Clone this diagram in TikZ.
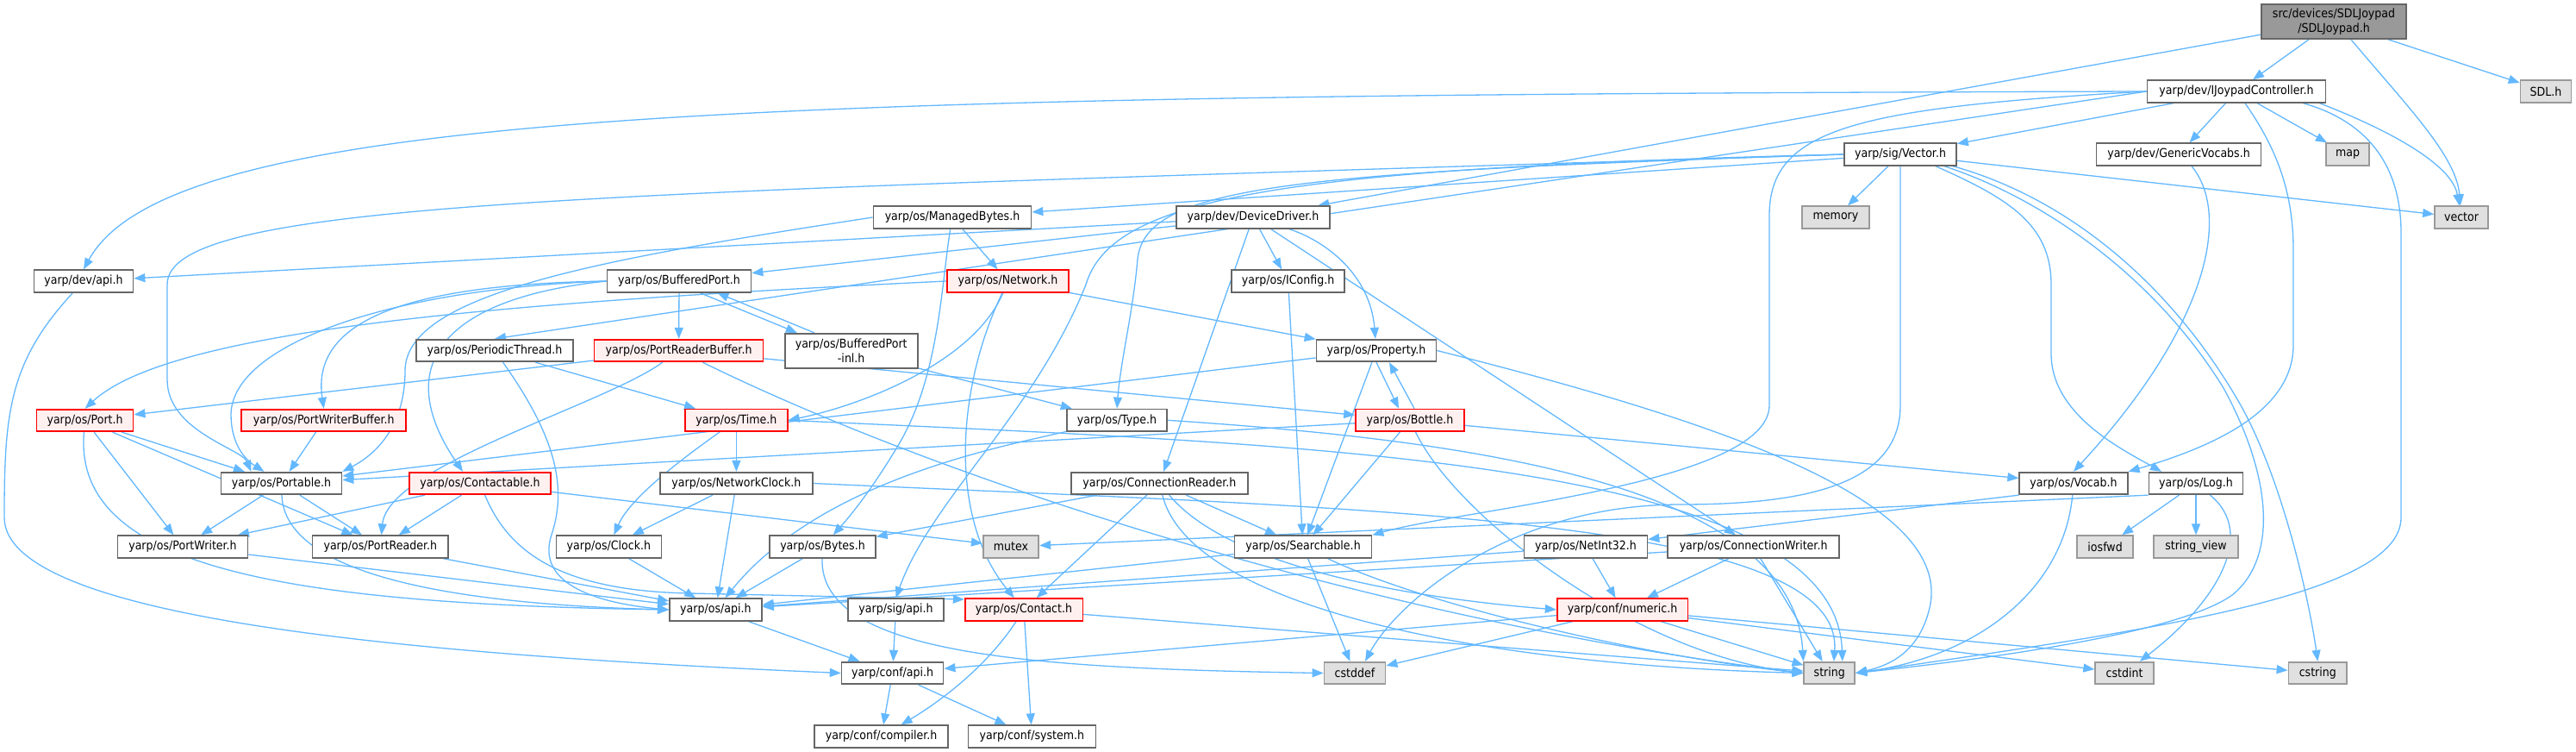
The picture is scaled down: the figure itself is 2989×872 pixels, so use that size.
\documentclass[tikz,border=0pt]{standalone}
\usepackage{fontspec}
\setmainfont{DejaVu Sans}[FakeStretch=0.9]
\usetikzlibrary{arrows.meta}
\definecolor{edgec}{HTML}{63B8FF}
\definecolor{bordc}{HTML}{666666}
\definecolor{sysf}{HTML}{E0E0E0}
\definecolor{sysb}{HTML}{999999}
\definecolor{redf}{HTML}{FFF0F0}
\definecolor{mainf}{HTML}{999999}
\pgfdeclarelayer{bg}
\pgfsetlayers{bg,main}
\begin{document}
\begin{tikzpicture}[x=1pt,y=-1pt,
 box/.style={draw=bordc, fill=white, line width=1.7pt, minimum height=25.6pt, inner sep=0pt, font=\fontsize{14}{16.5}\selectfont, text=black, align=center},
 sys/.style={box, fill=sysf, draw=sysb},
 redbox/.style={box, fill=redf, draw=red},
 mainbox/.style={box, fill=mainf, draw=bordc},
 dep/.style={draw=edgec, line width=1.3pt, -{Triangle[length=13pt,width=10pt]}},
]
\useasboundingbox (0,0) rectangle (2989,872);
% row 0
\node[mainbox, minimum width=168pt, minimum height=40pt] (main) at (2708,25) {src/devices/SDLJoypad\\/SDLJoypad.h};
% row 1
\node[box, minimum width=207pt] (ijoy) at (2595,106) {yarp/dev/IJoypadController.h};
\node[sys, minimum width=59pt] (sdl) at (2954,106) {SDL.h};
% row 2
\node[box, minimum width=191pt] (genv) at (2528,179) {yarp/dev/GenericVocabs.h};
\node[sys, minimum width=50pt] (map) at (2724,179) {map};
\node[box, minimum width=130pt] (vech) at (2205,179) {yarp/sig/Vector.h};
% row 3
\node[sys, minimum width=78pt] (memory) at (2130,252) {memory};
\node[sys, minimum width=62pt] (vector) at (2856,252) {vector};
\node[box, minimum width=183pt] (mbytes) at (1105,252) {yarp/os/ManagedBytes.h};
\node[box, minimum width=178pt] (ddrv) at (1454,252) {yarp/dev/DeviceDriver.h};
% row 4
\node[box, minimum width=115pt] (devapi) at (97,326) {yarp/dev/api.h};
\node[box, minimum width=167pt] (bport) at (788,326) {yarp/os/BufferedPort.h};
\node[redbox, minimum width=141.5pt] (network) at (1169.5,326) {yarp/os/Network.h};
\node[box, minimum width=131pt] (iconfig) at (1494.6,326) {yarp/os/IConfig.h};
% row 5
\node[box, minimum width=182pt] (pthread) at (574,406.5) {yarp/os/PeriodicThread.h};
\node[redbox, minimum width=196pt] (prbuf) at (787.6,406.5) {yarp/os/PortReaderBuffer.h};
\node[box, minimum width=154pt, minimum height=40pt] (bpinl) at (987.7,406.7) {yarp/os/BufferedPort\\-inl.h};
\node[box, minimum width=139pt] (property) at (1597,406.5) {yarp/os/Property.h};
% row 6
\node[redbox, minimum width=112pt] (port) at (98.6,487.5) {yarp/os/Port.h};
\node[redbox, minimum width=191pt] (pwbuf) at (375.7,487.5) {yarp/os/PortWriterBuffer.h};
\node[redbox, minimum width=119pt] (time) at (854.4,487.3) {yarp/os/Time.h};
\node[box, minimum width=116pt] (type) at (1296,487.3) {yarp/os/Type.h};
\node[redbox, minimum width=126pt] (bottle) at (1636,487.3) {yarp/os/Bottle.h};
% row 7
\node[box, minimum width=140pt] (portable) at (326.5,560.5) {yarp/os/Portable.h};
\node[redbox, minimum width=164pt] (contactable) at (557,560.5) {yarp/os/Contactable.h};
\node[box, minimum width=177pt] (netclock) at (854.4,560.5) {yarp/os/NetworkClock.h};
\node[box, minimum width=204.5pt] (connreader) at (1345.4,560.5) {yarp/os/ConnectionReader.h};
\node[box, minimum width=125.5pt] (vocab) at (2406,560.5) {yarp/os/Vocab.h};
\node[box, minimum width=109pt] (log) at (2548,560.5) {yarp/os/Log.h};
% row 8
\node[box, minimum width=151pt] (pwriter) at (212,634) {yarp/os/PortWriter.h};
\node[box, minimum width=157.5pt] (preader) at (441.3,634) {yarp/os/PortReader.h};
\node[box, minimum width=122pt] (clock) at (706.4,634) {yarp/os/Clock.h};
\node[box, minimum width=122.6pt] (bytes) at (954.5,634) {yarp/os/Bytes.h};
\node[sys, minimum width=64.5pt] (mutex) at (1173,634) {mutex};
\node[box, minimum width=159pt] (searchable) at (1512,634) {yarp/os/Searchable.h};
\node[box, minimum width=143pt] (netint) at (1840,634) {yarp/os/NetInt32.h};
\node[box, minimum width=198.7pt] (connwriter) at (2034.6,634) {yarp/os/ConnectionWriter.h};
\node[sys, minimum width=64.7pt] (iosfwd) at (2442.6,634) {iosfwd};
\node[sys, minimum width=98pt] (strview) at (2548,634) {string\_view};
% row 9
\node[box, minimum width=107pt] (osapi) at (830.4,707) {yarp/os/api.h};
\node[box, minimum width=110.5pt] (sigapi) at (1039.5,707) {yarp/sig/api.h};
\node[redbox, minimum width=136.7pt] (contact) at (1188,707) {yarp/os/Contact.h};
\node[redbox, minimum width=151.7pt] (numeric) at (1882.5,707) {yarp/conf/numeric.h};
% row 10
\node[box, minimum width=118pt] (confapi) at (1035.6,780.5) {yarp/conf/api.h};
\node[sys, minimum width=71pt] (cstddef) at (1572,780.5) {cstddef};
\node[sys, minimum width=59pt] (string) at (2122.8,780.5) {string};
\node[sys, minimum width=67.7pt] (cstdint) at (2465,780.5) {cstdint};
\node[sys, minimum width=67.7pt] (cstring) at (2689.3,780.5) {cstring};
% row 11
\node[box, minimum width=155pt] (compiler) at (1022.6,854) {yarp/conf/compiler.h};
\node[box, minimum width=148pt] (system) at (1197.4,854) {yarp/conf/system.h};

\begin{pgfonlayer}{bg}
\fill[white] (0,0) rectangle (2989,872);
% main
\draw[dep] (main) -- (ijoy);
\draw[dep] (main) -- (sdl);
\draw[dep] ([xshift=20pt]main.south) .. controls (2790,120) and (2850,180) .. (vector);
\draw[dep] (main) -- (ddrv);
% IJoypadController
\draw[dep] (ijoy.west) .. controls (900,110) and (200,125) .. (devapi.north);
\draw[dep] (ijoy.west) -- (pthread.north);
\draw[dep] (ijoy.west) .. controls (2150,125) and (2053,150) .. (2053,250) -- (2053,470) .. controls (2053,560) and (1700,590) .. (searchable.north east);
\draw[dep] (ijoy) -- (vech);
\draw[dep] (ijoy) -- (genv);
\draw[dep] (ijoy) -- (map);
\draw[dep] ([xshift=-8pt]ijoy.south east) .. controls (2770,150) and (2845,190) .. (vector);
\draw[dep] ([xshift=10pt]ijoy.south) .. controls (2640,170) and (2661,220) .. (2661,290) -- (2661,400) .. controls (2661,480) and (2560,520) .. (vocab.north east);
\draw[dep] ([xshift=-27pt]ijoy.south east) .. controls (2745,140) and (2786,190) .. (2786,270) -- (2786,600) .. controls (2786,690) and (2500,730) .. (string.east);
% GenericVocabs
\draw[dep] ([xshift=15pt]genv.south) .. controls (2590,250) and (2560,380) .. (vocab.north);
% Vector.h
\draw[dep] (vech) -- (memory);
\draw[dep] (vech) -- (vector);
\draw[dep] (vech) -- (mbytes);
\draw[dep] (vech.west) .. controls (700,225) and (194,230) .. (194,330) -- (194,440) .. controls (194,500) and (280,520) .. ([xshift=-35pt]portable.north);
\draw[dep] (vech.west) .. controls (1500,200) and (1330,215) .. (1320,300) .. controls (1315,360) and (1300,420) .. (type.north);
\draw[dep] (vech.west) .. controls (1480,195) and (1290,230) .. (1260,330) .. controls (1200,480) and (1080,580) .. (sigapi.north);
\draw[dep] ([xshift=-25pt]vech.south east) .. controls (2330,230) and (2380,260) .. (2380,330) -- (2380,410) .. controls (2380,480) and (2460,520) .. ([xshift=-40pt]log.north);
\draw[dep] ([xshift=-5pt]vech.south east) .. controls (2400,230) and (2520,330) .. (2600,470) .. controls (2650,560) and (2680,700) .. (cstring.north);
\draw[dep] ([xshift=-15pt]vech.south east) .. controls (2370,230) and (2500,320) .. (2580,450) .. controls (2640,560) and (2640,650) .. (2590,690) .. controls (2520,740) and (2250,770) .. (string.east);
\draw[dep] (vech.south) -- (2205,470) .. controls (2205,560) and (2100,585) .. (1950,585) .. controls (1750,585) and (1620,700) .. ([xshift=12pt]cstddef.north);
% DeviceDriver
\draw[dep] (ddrv) -- (devapi);
\draw[dep] (ddrv) -- (bport);
\draw[dep] (ddrv) -- (iconfig);
\draw[dep] (ddrv) .. controls (1540,280) and (1590,320) .. (property);
\draw[dep] (ddrv) -- (connreader);
\draw[dep] (ddrv) -- (connwriter);
% ManagedBytes
\draw[dep] (mbytes) .. controls (1092,330) and (1090,440) .. (1040,520) .. controls (1010,570) and (985,600) .. (bytes);
\draw[dep] (mbytes) -- (network);
\draw[dep] (mbytes.west) .. controls (700,300) and (470,340) .. (470,430) .. controls (470,500) and (430,530) .. (portable.north east);
% Network
\draw[dep] (network.west) .. controls (600,350) and (200,380) .. (port.north);
\draw[dep] (network) .. controls (1130,420) and (1000,470) .. (time.east);
\draw[dep] (network) .. controls (1110,450) and (1100,600) .. (contact);
\draw[dep] (network) -- (property);
% IConfig
\draw[dep] (iconfig) -- (searchable);
% BufferedPort
\draw[dep] (bport) -- (prbuf);
\draw[dep] ([xshift=-60pt]bport.south east) -- ([xshift=15pt]bpinl.north west);
\draw[dep] ([xshift=35pt]bpinl.north west) -- ([xshift=-40pt]bport.south east);
\draw[dep] (bport.west) .. controls (450,330) and (362,380) .. (pwbuf.north);
\draw[dep] (bport.west) .. controls (450,335) and (270,400) .. (268,480) .. controls (268,510) and (280,530) .. ([xshift=-20pt]portable.north);
\draw[dep] (bport.west) .. controls (520,345) and (450,420) .. ([xshift=-20pt]contactable.north);
\draw[dep] (bpinl) -- (type);
% PortReaderBuffer
\draw[dep] (prbuf) -- (port);
\draw[dep] (prbuf) .. controls (700,470) and (450,540) .. (preader);
\draw[dep] (prbuf) -- (bottle);
\draw[dep] (prbuf) .. controls (1100,560) and (1600,720) .. (string.west);
% PeriodicThread
\draw[dep] (pthread) -- (time);
\draw[dep] (pthread) .. controls (640,500) and (660,560) .. (640,620) .. controls (620,680) and (700,700) .. (osapi.west);
% Port
\draw[dep] (port) -- (portable);
\draw[dep] (port) -- (pwriter);
\draw[dep] (port) -- (preader);
\draw[dep] (port) .. controls (85,650) and (300,700) .. (osapi.west);
% PortWriterBuffer
\draw[dep] (pwbuf) -- (portable);
% Time
\draw[dep] (time) -- (netclock);
\draw[dep] (time) .. controls (780,540) and (730,580) .. (clock);
\draw[dep] (time.east) .. controls (1500,515) and (2130,530) .. ([xshift=15pt]string.north);
% Type
\draw[dep] (type) .. controls (1150,520) and (950,560) .. (osapi);
\draw[dep] (type.east) .. controls (1700,510) and (2080,560) .. (string.north west);
% Bottle / Property
\draw[dep] (property.south) -- ([xshift=-13pt]bottle.north);
\draw[dep] ([xshift=5pt]bottle.north) -- ([xshift=15pt]property.south);
\draw[dep] (bottle) -- (portable);
\draw[dep] (bottle) -- (searchable);
\draw[dep] (bottle) -- (vocab);
\draw[dep] (bottle) .. controls (1690,600) and (1900,760) .. (string.west);
\draw[dep] (property) -- (portable);
\draw[dep] (property) -- (searchable);
\draw[dep] (property.east) .. controls (2000,490) and (2260,580) .. (2240,700) .. controls (2230,750) and (2200,770) .. (string.east);
% Portable
\draw[dep] (portable) -- (pwriter);
\draw[dep] (portable) -- (preader);
\draw[dep] (portable) .. controls (330,660) and (500,700) .. (osapi.west);
% Contactable
\draw[dep] (contactable) -- (pwriter);
\draw[dep] (contactable) -- (preader);
\draw[dep] (contactable) -- (mutex);
\draw[dep] (contactable) .. controls (590,640) and (650,685) .. (800,688) -- ([yshift=12pt]contact.west);
% NetworkClock
\draw[dep] (netclock) -- (clock);
\draw[dep] (netclock) -- (osapi);
\draw[dep] (netclock.east) .. controls (1600,590) and (2140,600) .. ([xshift=5pt]string.north);
% ConnectionReader
\draw[dep] (connreader) -- (bytes);
\draw[dep] (connreader) -- (searchable);
\draw[dep] (connreader) -- (contact);
\draw[dep] (connreader) .. controls (1420,650) and (1600,690) .. (numeric.west);
\draw[dep] (connreader) .. controls (1380,700) and (1700,770) .. (string.west);
% Vocab / Log
\draw[dep] (vocab.south west) -- (netint);
\draw[dep] (vocab) .. controls (2395,680) and (2300,760) .. (string.east);
\draw[dep] (log.south west) -- (mutex);
\draw[dep] (log) -- (iosfwd);
\draw[dep] (log) -- (strview);
\draw[dep] (log) .. controls (2620,620) and (2570,700) .. (cstdint);
% row 8
\draw[dep] (searchable) -- (osapi);
\draw[dep] (searchable) -- (cstddef);
\draw[dep] (searchable) .. controls (1650,700) and (1900,760) .. (string.west);
\draw[dep] (netint) -- (osapi);
\draw[dep] (netint) -- (numeric);
\draw[dep] (connwriter) -- (osapi);
\draw[dep] (connwriter) -- (numeric);
\draw[dep] (connwriter) -- (string);
\draw[dep] (bytes) -- (osapi);
\draw[dep] (bytes) .. controls (950,760) and (1200,775) .. (cstddef.west);
\draw[dep] (clock) -- (osapi);
\draw[dep] (pwriter) -- (osapi);
\draw[dep] (preader) -- (osapi);
% api
\draw[dep] (devapi) .. controls (10,420) and (5,480) .. (5,600) .. controls (5,720) and (500,760) .. (confapi.west);
\draw[dep] (osapi) -- (confapi);
\draw[dep] (sigapi) -- (confapi);
\draw[dep] (contact) .. controls (1140,780) and (1080,820) .. (compiler);
\draw[dep] (contact) -- (system);
\draw[dep] (contact) -- (string);
\draw[dep] (confapi) -- (compiler);
\draw[dep] (confapi) -- (system);
\draw[dep] (numeric) -- (confapi);
\draw[dep] (numeric) -- (cstddef);
\draw[dep] (numeric) -- (string);
\draw[dep] (numeric) -- (cstdint);
\draw[dep] (numeric) -- (cstring);
\end{pgfonlayer}
\end{tikzpicture}
\end{document}
